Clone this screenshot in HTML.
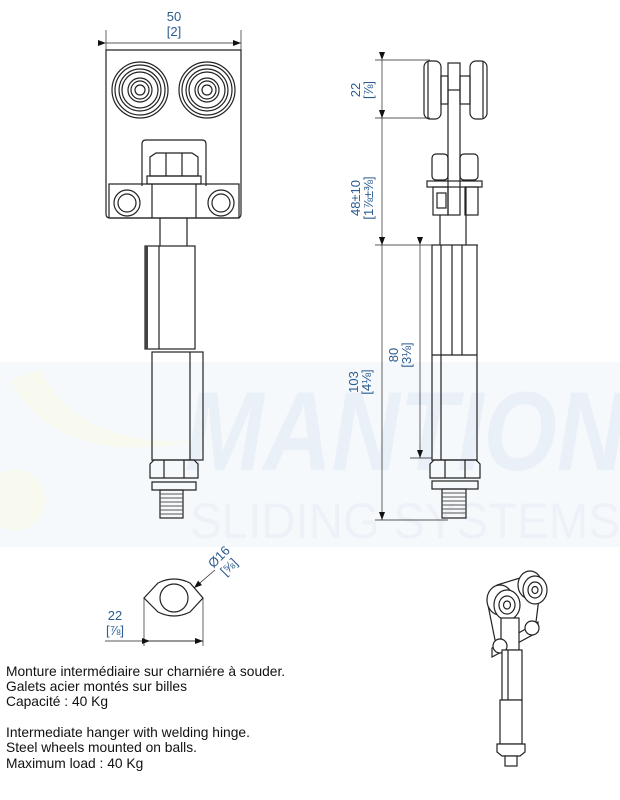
<!DOCTYPE html>
<html><head><meta charset="utf-8"><style>
html,body{margin:0;padding:0;background:#fff;}
svg{display:block;font-family:"Liberation Sans",Arial,sans-serif;}
.l{fill:none;stroke:#222;stroke-width:1.2}
.t{fill:none;stroke:#222;stroke-width:0.7}
.d{fill:#2b5c8f;font-size:13px}
.b{fill:#111;font-size:13.8px}
</style></head><body>
<svg width="620" height="800" viewBox="0 0 620 800" xmlns="http://www.w3.org/2000/svg">
<defs>
<marker id="a" markerWidth="8" markerHeight="6" refX="8" refY="3" orient="auto" markerUnits="userSpaceOnUse"><path d="M0,0 L8,3 L0,6z" fill="#111"/></marker>
</defs>
<!-- watermark -->
<rect x="0" y="362" width="620" height="185" fill="#f6f9fc"/>
<path d="M10,380 Q60,470 200,440 Q80,450 40,370z" fill="#f8faf0"/>
<circle cx="15" cy="500" r="30" fill="#f8faf0"/>
<text x="185" y="470" font-size="112" font-style="italic" font-weight="bold" fill="#eaf0f8" textLength="440" lengthAdjust="spacingAndGlyphs">MANTION</text>
<text x="190" y="538" font-size="50" fill="#eef2f8" textLength="430" lengthAdjust="spacingAndGlyphs">SLIDING SYSTEMS</text>

<!-- FRONT VIEW -->
<line class="t" x1="106" y1="30" x2="106" y2="60"/><line class="t" x1="241" y1="30" x2="241" y2="60"/>
<line class="t" x1="106" y1="43" x2="241" y2="43" marker-start="url(#a)" marker-end="url(#a)"/>
<text class="d" x="174" y="21" text-anchor="middle">50</text>
<text class="d" x="174" y="36" text-anchor="middle">[2]</text>
<path class="l" d="M106,50 L241,50 L241,214 Q241,218 237,218 L110,218 Q106,218 106,214z"/>
<g class="l">
<circle cx="140" cy="90" r="28"/><circle cx="140" cy="90" r="25"/><circle cx="140" cy="90" r="21"/><circle cx="140" cy="90" r="18"/><circle cx="140" cy="90" r="12"/><circle cx="140" cy="90" r="9"/><circle cx="140" cy="90" r="5"/>
<circle cx="207" cy="90" r="28"/><circle cx="207" cy="90" r="25"/><circle cx="207" cy="90" r="21"/><circle cx="207" cy="90" r="18"/><circle cx="207" cy="90" r="12"/><circle cx="207" cy="90" r="9"/><circle cx="207" cy="90" r="5"/>
<path d="M142,186 L142,144 Q142,140 146,140 L202,140 Q206,140 206,144 L206,186"/>
<path d="M150,176 L150,157 L156,153 L192,153 L198,157 L198,176z"/>
<line x1="166" y1="153" x2="166" y2="176"/><line x1="182" y1="153" x2="182" y2="176"/>
<rect x="147" y="176" width="54" height="8"/>
<rect x="109" y="184" width="130" height="34"/>
<circle cx="127" cy="203" r="13"/><circle cx="127" cy="203" r="9"/>
<circle cx="221" cy="203" r="13"/><circle cx="221" cy="203" r="9"/>
<line x1="152" y1="184" x2="152" y2="218"/><line x1="196" y1="184" x2="196" y2="218"/>
<line x1="160" y1="218" x2="160" y2="246"/><line x1="187" y1="218" x2="187" y2="246"/>
<rect x="145" y="246" width="50" height="103"/>
<line x1="159" y1="246" x2="159" y2="349"/>
<rect x="152" y="352" width="51" height="108"/>
<line x1="190" y1="352" x2="190" y2="460"/>
<path d="M150,478 L150,464 L154,460 L194,460 L198,464 L198,478z"/>
<line x1="164" y1="460" x2="164" y2="478"/><line x1="184" y1="460" x2="184" y2="478"/>
<path d="M152,490 L152,482 L196,482 L196,490z"/>
<rect x="160" y="490" width="23" height="28"/>
</g>
<rect x="145" y="246" width="3" height="103" fill="#444"/>
<g stroke="#555" stroke-width="1"><path d="M160,494h23M160,498h23M160,502h23M160,506h23M160,510h23M160,514h23"/></g>

<!-- SIDE VIEW -->
<g class="t">
<line x1="375" y1="60" x2="430" y2="60"/><line x1="375" y1="118" x2="430" y2="118"/>
<line x1="375" y1="245" x2="478" y2="245"/><line x1="375" y1="520" x2="448" y2="520"/>
<line x1="410" y1="458" x2="432" y2="458"/>
</g>
<line class="t" x1="382" y1="60" x2="382" y2="118" marker-start="url(#a)" marker-end="url(#a)"/>
<line class="t" x1="382" y1="118" x2="382" y2="245" marker-start="url(#a)" marker-end="url(#a)"/>
<line class="t" x1="382" y1="245" x2="382" y2="520" marker-start="url(#a)" marker-end="url(#a)"/>
<line class="t" x1="420" y1="245" x2="420" y2="458" marker-start="url(#a)" marker-end="url(#a)"/>
<text class="d" transform="translate(360,90) rotate(-90)" text-anchor="middle">22</text>
<text class="d" transform="translate(373,90) rotate(-90)" text-anchor="middle">[⅞]</text>
<text class="d" transform="translate(360,198) rotate(-90)" text-anchor="middle">48±10</text>
<text class="d" transform="translate(373,198) rotate(-90)" text-anchor="middle">[1⅞±⅜]</text>
<text class="d" transform="translate(358,382) rotate(-90)" text-anchor="middle">103</text>
<text class="d" transform="translate(371,382) rotate(-90)" text-anchor="middle">[4⅛]</text>
<text class="d" transform="translate(398,355) rotate(-90)" text-anchor="middle">80</text>
<text class="d" transform="translate(411,355) rotate(-90)" text-anchor="middle">[3⅛]</text>
<g class="l">
<rect x="424" y="61" width="17" height="58" rx="6"/><line x1="428" y1="62" x2="428" y2="118"/>
<rect x="470" y="61" width="17" height="58" rx="6"/><line x1="483" y1="62" x2="483" y2="118"/>
<rect x="441" y="76" width="7" height="28"/><rect x="460" y="76" width="10" height="28"/>
<rect x="448" y="63" width="12" height="152"/><line x1="448" y1="90" x2="460" y2="90"/>
<rect x="432" y="154" width="16" height="26" rx="4"/><rect x="460" y="154" width="18" height="26" rx="4"/>
<rect x="427" y="181" width="55" height="6"/>
<rect x="433" y="187" width="15" height="28"/><rect x="437" y="193" width="9" height="15"/>
<rect x="465" y="187" width="13" height="28"/>
<line x1="440" y1="215" x2="440" y2="245"/><line x1="466" y1="187" x2="466" y2="245"/>
<rect x="432" y="245" width="45" height="215"/>
<line x1="441" y1="245" x2="441" y2="460"/><line x1="452" y1="245" x2="452" y2="355"/><line x1="462" y1="245" x2="462" y2="355"/>
<line x1="432" y1="355" x2="477" y2="355"/>
<path d="M430,478 L430,464 L434,460 L476,460 L480,464 L480,478z"/>
<line x1="445" y1="460" x2="445" y2="478"/><line x1="465" y1="460" x2="465" y2="478"/>
<rect x="432" y="481" width="46" height="8"/>
<rect x="442" y="489" width="24" height="29"/>
</g>
<g stroke="#555" stroke-width="1"><path d="M442,493h24M442,497h24M442,501h24M442,505h24M442,509h24M442,513h24"/></g>

<!-- SECTION -->
<g class="l">
<path d="M144,598 L158,583 Q174,575 190,583 L203,598 L190,612 Q174,620 158,612z"/>
<circle cx="174" cy="598" r="14"/>
<line x1="144" y1="598" x2="144" y2="646" class="t"/><line x1="203" y1="598" x2="203" y2="646" class="t"/>
</g>
<line class="t" x1="105" y1="641" x2="203" y2="641"/>
<line class="t" x1="150" y1="641" x2="203" y2="641" marker-start="url(#a)" marker-end="url(#a)"/>
<line class="t" x1="215" y1="570" x2="194" y2="588" marker-end="url(#a)"/>
<text class="d" transform="translate(222,560) rotate(-45)" text-anchor="middle">Ø16</text>
<text class="d" transform="translate(232,570) rotate(-45)" text-anchor="middle">[⅝]</text>
<text class="d" x="115" y="620" text-anchor="middle">22</text>
<text class="d" x="115" y="635" text-anchor="middle">[⅞]</text>

<!-- 3D VIEW -->
<g class="l">
<path d="M487,600 L497,585 L530,575 L540,590 L535,630 L497,650z" fill="#fff"/>
<ellipse cx="530" cy="585" rx="12" ry="14" fill="#fff"/>
<ellipse cx="500" cy="600" rx="13" ry="15" fill="#fff"/>
<ellipse cx="535" cy="590" rx="12" ry="14" fill="#fff"/><ellipse cx="535" cy="590" rx="7" ry="8"/><ellipse cx="535" cy="590" rx="3" ry="3.5"/>
<ellipse cx="507" cy="605" rx="13" ry="15" fill="#fff"/><ellipse cx="507" cy="605" rx="8" ry="9"/><ellipse cx="507" cy="605" rx="3.5" ry="4"/>
<path d="M492,648 L538,622 L538,632 L492,657z" fill="#fff"/>
<rect x="501" y="618" width="18" height="32" fill="#fff"/>
<circle cx="500" cy="646" r="7" fill="#fff"/><circle cx="532" cy="628" r="7" fill="#fff"/>
<rect x="502" y="650" width="20" height="50" fill="#fff"/>
<line x1="508" y1="650" x2="508" y2="700"/>
<rect x="500" y="700" width="22" height="44" fill="#fff"/>
<path d="M497,752 L497,744 L525,744 L525,752 L520,756 L502,756z" fill="#fff"/>
<rect x="505" y="756" width="12" height="10" fill="#fff"/>
</g>

<!-- TEXT -->
<text class="b" x="6" y="676">Monture intermédiaire sur charniére à souder.</text>
<text class="b" x="6" y="691">Galets acier montés sur billes</text>
<text class="b" x="6" y="706">Capacité : 40 Kg</text>
<text class="b" x="6" y="737">Intermediate hanger with welding hinge.</text>
<text class="b" x="6" y="752">Steel wheels mounted on balls.</text>
<text class="b" x="6" y="768">Maximum load : 40 Kg</text>
</svg>
</body></html>
